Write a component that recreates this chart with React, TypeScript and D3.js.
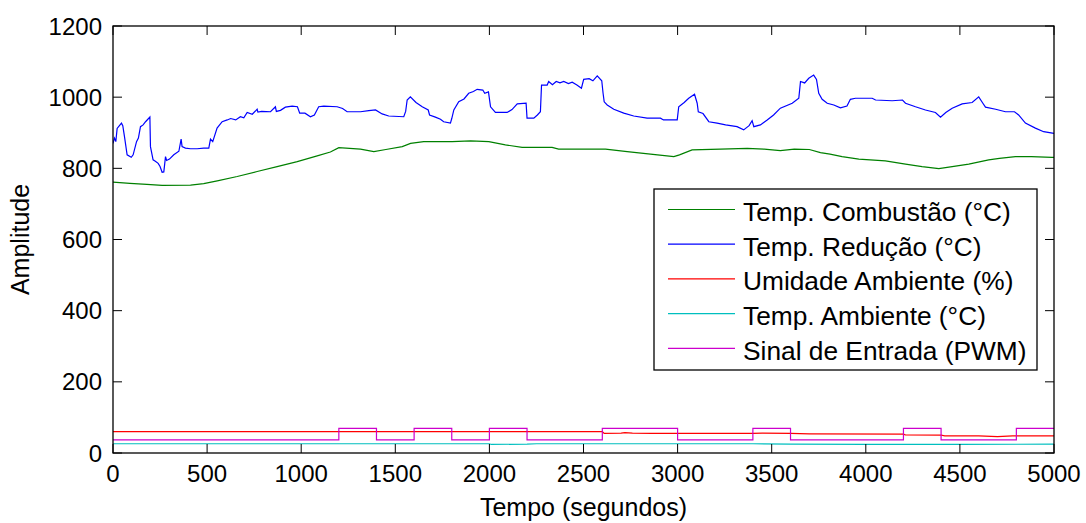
import React from "react";
import * as d3 from "d3";

const W = 1086;
const H = 523;
const M = { left: 113, right: 1054, top: 26, bottom: 453 };

const xTicks = [0, 500, 1000, 1500, 2000, 2500, 3000, 3500, 4000, 4500, 5000];
const yTicks = [0, 200, 400, 600, 800, 1000, 1200];

const seriesNames = [
  "Temp. Combustão (°C)",
  "Temp. Redução (°C)",
  "Umidade Ambiente (%)",
  "Temp. Ambiente (°C)",
  "Sinal de Entrada (PWM)",
];
const seriesColors = ["#008000", "#0000ff", "#ff0000", "#00bfbf", "#cc00cc"];

const combustao: [number, number][] = [
  [0, 761], [90, 758], [180, 755], [261, 752], [412, 753], [482, 757], [554, 765], [660, 777],
  [766, 791], [872, 805], [979, 819], [1085, 835], [1155, 846], [1200, 858], [1315, 854],
  [1386, 847], [1450, 853], [1537, 861], [1581, 870], [1651, 875], [1802, 875], [1900, 877],
  [1997, 875], [2085, 866], [2174, 859], [2333, 859], [2368, 854], [2617, 854], [2732, 847],
  [2856, 840], [2980, 833], [3010, 838], [3077, 852], [3228, 854], [3370, 856], [3460, 854],
  [3546, 850], [3620, 854], [3700, 853], [3759, 844], [3810, 840], [3874, 833], [3963, 826],
  [4104, 821], [4211, 812], [4299, 805], [4388, 799], [4459, 805], [4547, 812], [4653, 824],
  [4710, 828], [4795, 833], [4880, 833], [4990, 831], [5000, 831],
];

const reducao: [number, number][] = [
  [0, 870], [8, 885], [15, 875], [22, 912], [45, 927], [52, 920], [61, 889], [75, 838], [97, 831],
  [107, 838], [125, 875], [135, 885], [146, 917], [160, 922], [173, 931], [196, 944], [199, 861],
  [213, 824], [225, 820], [240, 814], [250, 805], [261, 789], [270, 790], [279, 833], [285, 822],
  [300, 826], [323, 838], [350, 848], [362, 882], [367, 861], [385, 857], [412, 855], [447, 855],
  [482, 857], [509, 857], [518, 882], [530, 875], [553, 913], [580, 931], [607, 936], [625, 940],
  [652, 936], [677, 945], [695, 942], [713, 957], [740, 952], [766, 966], [770, 958], [790, 960],
  [837, 959], [863, 973], [868, 960], [890, 963], [916, 972], [952, 975], [980, 973], [992, 955],
  [1020, 955], [1049, 945], [1070, 950], [1093, 973], [1120, 975], [1191, 973], [1220, 968],
  [1244, 959], [1315, 959], [1359, 962], [1395, 964], [1430, 953], [1465, 947], [1545, 945],
  [1555, 960], [1563, 992], [1580, 1001], [1610, 985], [1643, 973], [1675, 964], [1682, 950],
  [1713, 944], [1740, 938], [1757, 931], [1793, 927], [1800, 940], [1811, 964], [1837, 987],
  [1865, 995], [1890, 1011], [1915, 1016], [1935, 1022], [1965, 1020], [1975, 1011], [1995, 1015],
  [2006, 973], [2032, 957], [2094, 957], [2120, 965], [2148, 981], [2195, 983], [2200, 941],
  [2236, 941], [2255, 950], [2271, 959], [2277, 1034], [2307, 1034], [2315, 1044], [2335, 1035],
  [2355, 1044], [2375, 1040], [2395, 1044], [2420, 1038], [2440, 1042], [2465, 1034], [2489, 1025],
  [2501, 1050], [2530, 1052], [2550, 1046], [2573, 1060], [2597, 1046], [2604, 1011], [2610, 987],
  [2626, 978], [2661, 966], [2714, 955], [2767, 947], [2838, 941], [2909, 941], [2925, 936],
  [2998, 936], [3006, 973], [3035, 985], [3059, 997], [3090, 1008], [3104, 983], [3110, 959],
  [3135, 954], [3166, 931], [3210, 927], [3255, 922], [3316, 917], [3351, 908], [3380, 920],
  [3396, 934], [3405, 917], [3440, 922], [3476, 936], [3510, 950], [3546, 969], [3609, 983],
  [3644, 997], [3653, 1044], [3675, 1040], [3697, 1053], [3723, 1062], [3738, 1050], [3750, 1011],
  [3768, 994], [3795, 983], [3830, 978], [3865, 970], [3900, 975], [3918, 994], [3945, 997],
  [4034, 997], [4052, 992], [4140, 990], [4195, 992], [4211, 983], [4264, 973], [4317, 964],
  [4370, 957], [4397, 944], [4425, 957], [4459, 969], [4512, 981], [4565, 985], [4600, 1001],
  [4622, 983], [4636, 972], [4690, 966], [4742, 959], [4790, 959], [4812, 950], [4848, 927],
  [4901, 913], [4945, 903], [5000, 898],
];

const umidade: [number, number][] = [
  [0, 60], [2600, 60], [2610, 55], [2700, 56], [2720, 57], [2760, 56], [2860, 55], [3400, 55],
  [3450, 56], [3600, 55], [3700, 54], [4200, 53], [4210, 51], [4400, 50], [4420, 48], [4600, 48],
  [4700, 46], [4780, 48], [5000, 48],
];

const ambiente: [number, number][] = [
  [0, 26], [2000, 26], [2010, 24], [2200, 25], [2250, 26], [3400, 26], [3600, 25], [4000, 24],
  [4500, 24], [5000, 25],
];

const pwmTimes = [0, 1200, 1400, 1600, 1800, 2000, 2200, 2600, 3000, 3400, 3600, 4200, 4400, 4800, 5000];
const pwmLevels = [37, 69, 37, 69, 37, 69, 37, 69, 37, 69, 37, 69, 37, 69, 69];

export default function App() {
  const x = d3.scaleLinear().domain([0, 5000]).range([M.left, M.right]);
  const y = d3.scaleLinear().domain([0, 1200]).range([M.bottom, M.top]);

  const line = d3
    .line<[number, number]>()
    .x((d) => x(d[0]))
    .y((d) => y(d[1]));
  const stepLine = d3
    .line<[number, number]>()
    .x((d) => x(d[0]))
    .y((d) => y(d[1]))
    .curve(d3.curveStepAfter);

  const pwm: [number, number][] = pwmTimes.map((t, i) => [t, pwmLevels[i]]);

  const paths = [
    { d: line(combustao), c: seriesColors[0] },
    { d: line(reducao), c: seriesColors[1] },
    { d: line(umidade), c: seriesColors[2] },
    { d: line(ambiente), c: seriesColors[3] },
    { d: stepLine(pwm), c: seriesColors[4] },
  ];

  const font = "'Liberation Sans', Arial, sans-serif";
  const tickLen = 9;
  const legend = { x0: 654, y0: 189, x1: 1037, y1: 370 };

  return (
    <svg
      width={W}
      height={H}
      style={{ position: "absolute", left: 0, top: 0, background: "#fff" }}
      fontFamily={font}
    >
      <rect x={0} y={0} width={W} height={H} fill="#fff" />
      <defs>
        <clipPath id="plot">
          <rect x={M.left} y={M.top} width={M.right - M.left} height={M.bottom - M.top} />
        </clipPath>
      </defs>
      <g clipPath="url(#plot)">
        {paths.map((p, i) => (
          <path key={i} d={p.d || ""} fill="none" stroke={p.c} strokeWidth={1.2} />
        ))}
      </g>
      {xTicks.map((t) => (
        <g key={"xt" + t}>
          <line x1={x(t)} x2={x(t)} y1={M.bottom} y2={M.bottom - tickLen} stroke="#000" />
          <line x1={x(t)} x2={x(t)} y1={M.top} y2={M.top + tickLen} stroke="#000" />
          <text x={x(t)} y={482} fontSize={24} textAnchor="middle" fill="#000">
            {t}
          </text>
        </g>
      ))}
      {yTicks.map((t) => (
        <g key={"yt" + t}>
          <line x1={M.left} x2={M.left + tickLen} y1={y(t)} y2={y(t)} stroke="#000" />
          <line x1={M.right} x2={M.right - tickLen} y1={y(t)} y2={y(t)} stroke="#000" />
          <text x={102} y={y(t)} dy="0.36em" fontSize={24} textAnchor="end" fill="#000">
            {t}
          </text>
        </g>
      ))}
      <rect
        x={M.left}
        y={M.top}
        width={M.right - M.left}
        height={M.bottom - M.top}
        fill="none"
        stroke="#000"
        strokeWidth={1.3}
      />
      <text x={(M.left + M.right) / 2} y={516} fontSize={25} textAnchor="middle" fill="#000">
        Tempo (segundos)
      </text>
      <text
        transform={`translate(29,${(M.top + M.bottom) / 2}) rotate(-90)`}
        fontSize={25}
        textAnchor="middle"
        fill="#000"
      >
        Amplitude
      </text>
      <rect
        x={legend.x0}
        y={legend.y0}
        width={legend.x1 - legend.x0}
        height={legend.y1 - legend.y0}
        fill="#fff"
        stroke="#000"
        strokeWidth={1.3}
      />
      {seriesNames.map((n, i) => {
        const ly = 209.5 + i * 34.7;
        return (
          <g key={n}>
            <line x1={668} x2={735} y1={ly} y2={ly} stroke={seriesColors[i]} strokeWidth={1.2} />
            <text x={743} y={ly + 11.5} fontSize={26.3} fill="#000">
              {n}
            </text>
          </g>
        );
      })}
    </svg>
  );
}
